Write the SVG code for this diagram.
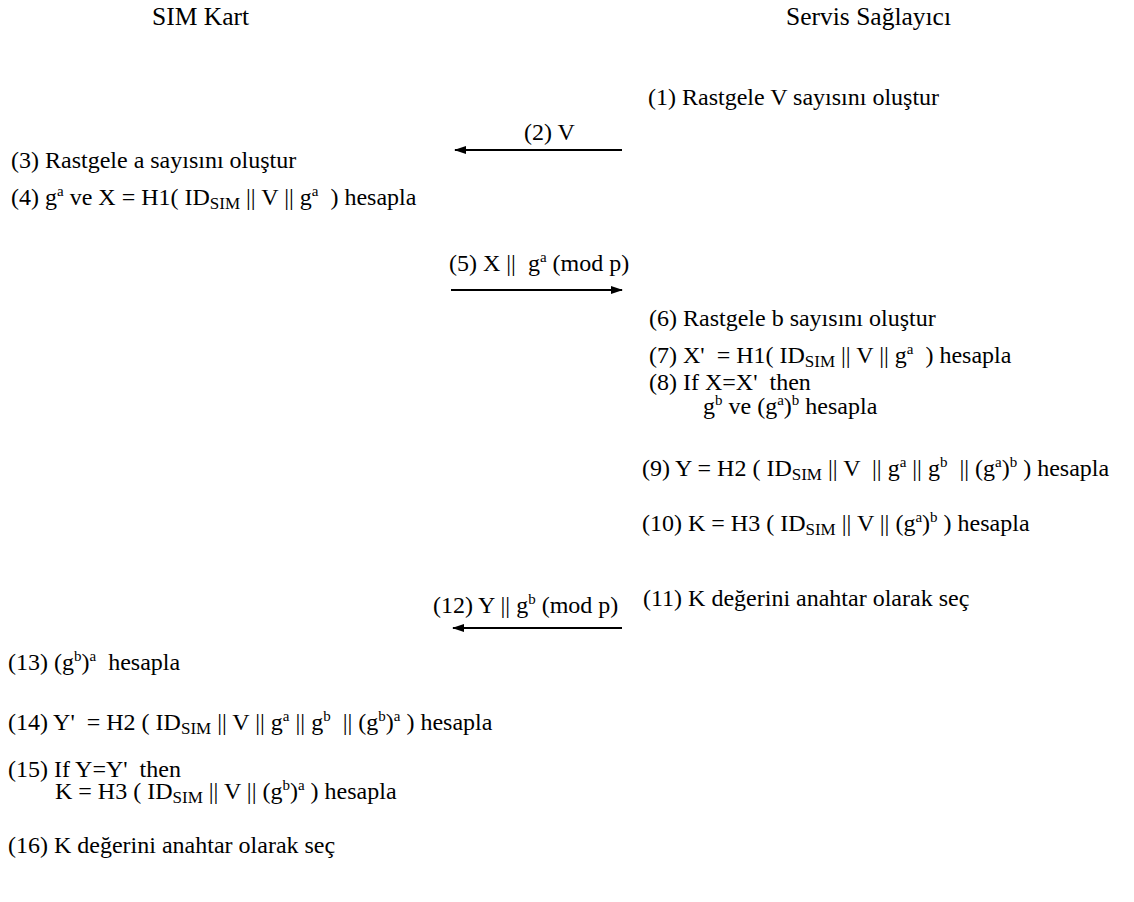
<svg xmlns="http://www.w3.org/2000/svg" width="1134" height="902" viewBox="0 0 1134 902">
  <defs>
    <style>
      text { font-family: "Liberation Serif", "Times New Roman", serif; font-size: 24px; fill: #000; }
      .head { font-size: 25.5px; }
      .sup { font-size: 15px; }
      .sub { font-size: 17px; }
      .wire { stroke: #000; stroke-width: 2; fill: none; }
    </style>
    <marker id="head" viewBox="0 0 12 8" refX="11" refY="4" markerWidth="12" markerHeight="8" markerUnits="userSpaceOnUse" orient="auto">
      <path d="M0,0 L12,4 L0,8 Z" fill="#000"/>
    </marker>
  </defs>
  <rect width="1134" height="902" fill="#fff"/>

  <!-- column headers -->
  <g id="sim-header"><text class="head" x="152" y="25">SIM Kart</text></g>
  <g id="sp-header"><text class="head" x="786" y="25">Servis Sağlayıcı</text></g>

  <!-- service provider steps -->
  <g id="step1"><text x="648" y="105">(1) Rastgele V sayısını oluştur</text></g>
  <g id="step6"><text x="649" y="326">(6) Rastgele b sayısını oluştur</text></g>
  <g id="step7"><text x="649" y="363" xml:space="preserve">(7) X'  = H1( ID<tspan class="sub" dy="4">SIM</tspan><tspan dy="-4"> || V || g</tspan><tspan class="sup" dy="-9">a</tspan><tspan dy="9">  ) hesapla</tspan></text></g>
  <g id="step8">
    <text x="649" y="390" xml:space="preserve">(8) If X=X'  then</text>
    <text x="703" y="414" xml:space="preserve">g<tspan class="sup" dy="-9">b</tspan><tspan dy="9"> ve (g</tspan><tspan class="sup" dy="-9">a</tspan><tspan dy="9">)</tspan><tspan class="sup" dy="-9">b</tspan><tspan dy="9"> hesapla</tspan></text>
  </g>
  <g id="step9"><text x="642" y="476" xml:space="preserve">(9) Y = H2 ( ID<tspan class="sub" dy="4">SIM</tspan><tspan dy="-4"> || V  || g</tspan><tspan class="sup" dy="-9">a</tspan><tspan dy="9"> || g</tspan><tspan class="sup" dy="-9">b</tspan><tspan dy="9">  || (g</tspan><tspan class="sup" dy="-9">a</tspan><tspan dy="9">)</tspan><tspan class="sup" dy="-9">b</tspan><tspan dy="9"> ) hesapla</tspan></text></g>
  <g id="step10"><text x="642" y="531" xml:space="preserve">(10) K = H3 ( ID<tspan class="sub" dy="4">SIM</tspan><tspan dy="-4"> || V || (g</tspan><tspan class="sup" dy="-9">a</tspan><tspan dy="9">)</tspan><tspan class="sup" dy="-9">b</tspan><tspan dy="9"> ) hesapla</tspan></text></g>
  <g id="step11"><text x="643" y="606">(11) K değerini anahtar olarak seç</text></g>

  <!-- SIM card steps -->
  <g id="step3"><text x="11" y="168">(3) Rastgele a sayısını oluştur</text></g>
  <g id="step4"><text x="11" y="205" xml:space="preserve">(4) g<tspan class="sup" dy="-9">a</tspan><tspan dy="9"> ve X = H1( ID</tspan><tspan class="sub" dy="4">SIM</tspan><tspan dy="-4"> || V || g</tspan><tspan class="sup" dy="-9">a</tspan><tspan dy="9">  ) hesapla</tspan></text></g>
  <g id="step13"><text x="8" y="670" xml:space="preserve">(13) (g<tspan class="sup" dy="-9">b</tspan><tspan dy="9">)</tspan><tspan class="sup" dy="-9">a</tspan><tspan dy="9">  hesapla</tspan></text></g>
  <g id="step14"><text x="8" y="730" xml:space="preserve">(14) Y'  = H2 ( ID<tspan class="sub" dy="4">SIM</tspan><tspan dy="-4"> || V || g</tspan><tspan class="sup" dy="-9">a</tspan><tspan dy="9"> || g</tspan><tspan class="sup" dy="-9">b</tspan><tspan dy="9">  || (g</tspan><tspan class="sup" dy="-9">b</tspan><tspan dy="9">)</tspan><tspan class="sup" dy="-9">a</tspan><tspan dy="9"> ) hesapla</tspan></text></g>
  <g id="step15">
    <text x="8" y="777" xml:space="preserve">(15) If Y=Y'  then</text>
    <text x="55" y="799" xml:space="preserve">K = H3 ( ID<tspan class="sub" dy="4">SIM</tspan><tspan dy="-4"> || V || (g</tspan><tspan class="sup" dy="-9">b</tspan><tspan dy="9">)</tspan><tspan class="sup" dy="-9">a</tspan><tspan dy="9"> ) hesapla</tspan></text>
  </g>
  <g id="step16"><text x="8" y="853">(16) K değerini anahtar olarak seç</text></g>

  <!-- messages between the two parties -->
  <g id="connectors">
    <g id="msg2">
      <text x="524" y="140">(2) V</text>
      <line class="wire" x1="622" y1="150" x2="455" y2="150" marker-end="url(#head)"/>
    </g>
    <g id="msg5">
      <text x="449" y="271" xml:space="preserve">(5) X ||  g<tspan class="sup" dy="-9">a</tspan><tspan dy="9"> (mod p)</tspan></text>
      <line class="wire" x1="451" y1="290" x2="622" y2="290" marker-end="url(#head)"/>
    </g>
    <g id="msg12">
      <text x="433" y="613" xml:space="preserve">(12) Y || g<tspan class="sup" dy="-9">b</tspan><tspan dy="9"> (mod p)</tspan></text>
      <line class="wire" x1="622" y1="628" x2="453" y2="628" marker-end="url(#head)"/>
    </g>
  </g>
</svg>
